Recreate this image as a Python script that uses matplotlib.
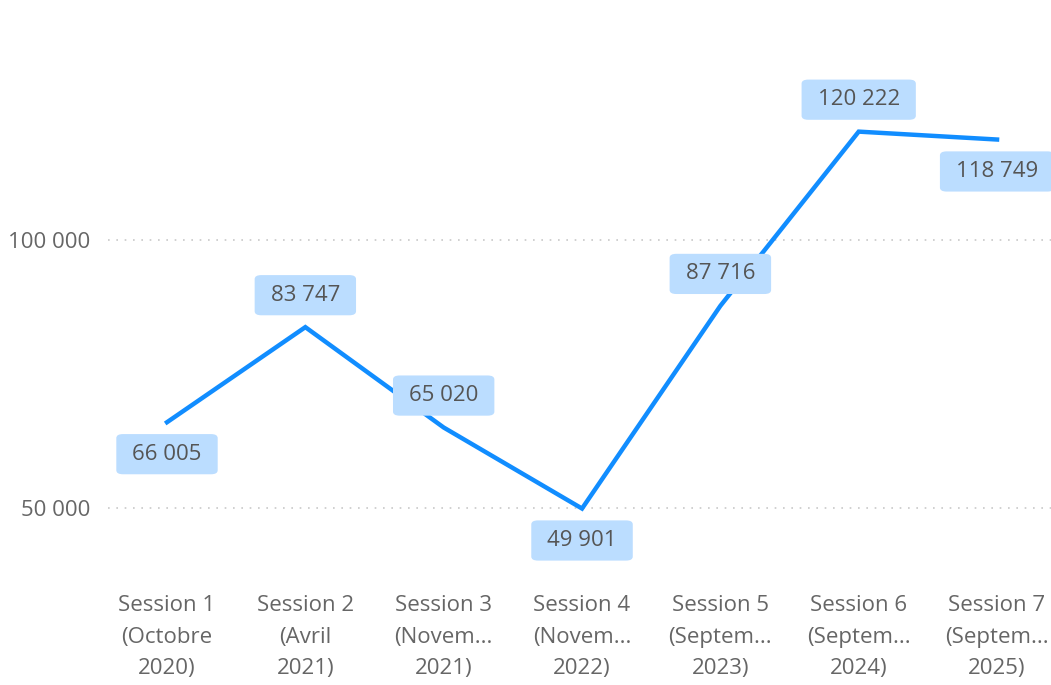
import matplotlib.pyplot as plt
import numpy as np

plt.rcParams['font.family'] = ['Open Sans', 'DejaVu Sans']

# Participants per session
sessions = ['Session 1\n(Octobre\n2020)', 'Session 2\n(Avril\n2021)',
            'Session 3\n(Novem...\n2021)', 'Session 4\n(Novem...\n2022)',
            'Session 5\n(Septem...\n2023)', 'Session 6\n(Septem...\n2024)',
            'Session 7\n(Septem...\n2025)']
values = [66005, 83747, 65020, 49901, 87716, 120222, 118749]
label_side = [-1, 1, 1, -1, 1, 1, -1]   # -1 below the point, 1 above
y_ticks = [50000, 100000]

line_c = '#118DFF'
box_c = '#BBDDFF'
txt_c = '#555555'
axis_c = '#666666'

fig = plt.figure(figsize=(10.51, 6.85), dpi=100)
W, H = 1051, 685
left, right, top, bottom = 108, 1051, 0, 580
ax = fig.add_axes([left / W, 1 - bottom / H, (right - left) / W, (bottom - top) / H])

x = np.arange(len(values))
ax.plot(x, values, color=line_c, lw=3.2, solid_joinstyle='miter', zorder=3)

ax.set_xlim(-0.4265, 6.39)
ax.set_ylim(36570, 144780)

for xi, v, s in zip(x, values, label_side):
    txt = f'{v:,}'.replace(',', ' ')
    t = ax.annotate(txt, (xi, v), xytext=(0, 23 * s), textcoords='offset points',
                    ha='center', va='center', fontsize=16, color=txt_c, zorder=4,
                    bbox=dict(boxstyle='round,pad=0.72,rounding_size=0.3',
                              fc=box_c, ec='none'))
    t.get_bbox_patch().set_mutation_aspect(0.6)

ax.set_yticks(y_ticks)
ax.set_yticklabels([f'{t:,}'.replace(',', ' ') for t in y_ticks],
                   fontsize=16, color=axis_c)
ax.yaxis.grid(True, linestyle=(0, (1, 4)), color='#C8C8C8', lw=1.2)
ax.set_axisbelow(True)

ax.set_xticks(x)
ax.set_xticklabels(sessions, fontsize=16, color=axis_c, linespacing=1.66)

ax.tick_params(length=0)
ax.tick_params(axis='x', pad=11)
ax.tick_params(axis='y', pad=13)
for sp in ax.spines.values():
    sp.set_visible(False)

fig.savefig('out.png', dpi=100)
